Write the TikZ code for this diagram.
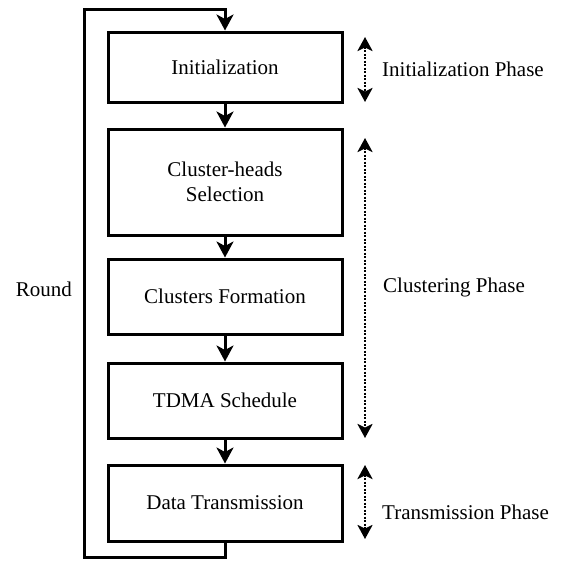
\documentclass[tikz,border=0pt]{standalone}
\usepackage{fontspec}
\setmainfont{Liberation Serif}
\usetikzlibrary{arrows.meta}
\tikzset{
  box/.style={draw, line width=3pt, minimum width=234pt, align=center, inner sep=0pt, font=\fontsize{21}{25}\selectfont},
  flow/.style={line width=3pt, -{Stealth[length=16pt,width=17pt,inset=4.5pt]}},
  phase/.style={line width=2.8pt, dash pattern=on 1.8pt off 1.7pt, {Stealth[length=14pt,width=15pt,inset=3.5pt]}-{Stealth[length=14pt,width=15pt,inset=3.5pt]}},
  lbl/.style={inner sep=0pt, font=\fontsize{21}{25}\selectfont}
}
\begin{document}
\begin{tikzpicture}[x=1pt,y=-1pt]
\useasboundingbox (0,0) rectangle (561,560);
\node[box, minimum height=70pt] (init) at (225,67) {Initialization};
\node[box, minimum height=106pt] (ch) at (225,182) {Cluster-heads\\Selection};
\node[box, minimum height=75pt] (cf) at (225,296.5) {Clusters Formation};
\node[box, minimum height=75pt] (tdma) at (225,400.5) {TDMA Schedule};
\node[box, minimum height=76pt] (dt) at (225,503) {Data Transmission};
\coordinate (bl) at (84,557);
\coordinate (tl) at (84,9);
\coordinate (tr) at (225,9);
\draw[flow] (init) -- (ch);
\draw[flow] (ch) -- (cf);
\draw[flow] (cf) -- (tdma);
\draw[flow] (tdma) -- (dt);
\draw[flow] (dt.south) |- (bl) -- (tl) -- (tr) -- (init.north);
\node[lbl, anchor=east] (round) at (72,289) {Round};
\coordinate (p1a) at (365,37);
\coordinate (p1b) at (365,102);
\coordinate (p2a) at (365,138);
\coordinate (p2b) at (365,438);
\coordinate (p3a) at (365,465);
\coordinate (p3b) at (365,539);
\draw[phase] (p1a) -- (p1b);
\draw[phase] (p2a) -- (p2b);
\draw[phase] (p3a) -- (p3b);
\node[lbl, anchor=west] (l1) at (382,69) {Initialization Phase};
\node[lbl, anchor=west] (l2) at (383,287) {Clustering Phase};
\node[lbl, anchor=west] (l3) at (382,512) {Transmission Phase};
\end{tikzpicture}
\end{document}
